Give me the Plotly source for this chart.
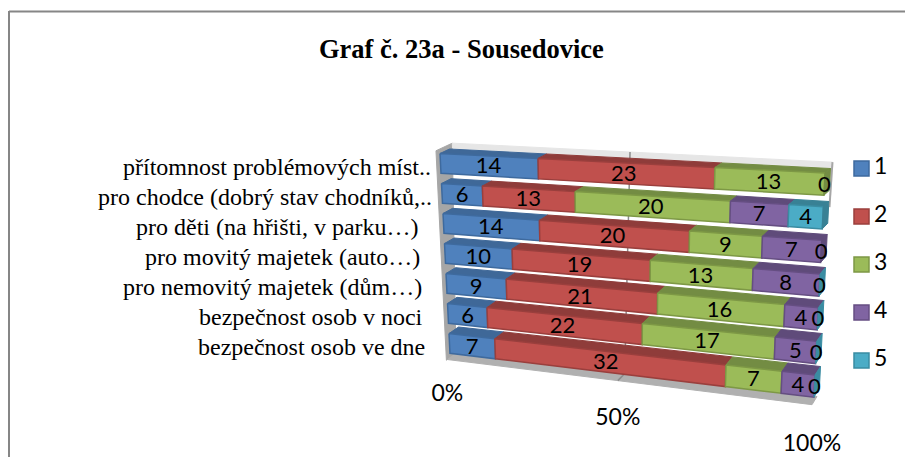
import plotly.graph_objects as go

categories = ["přítomnost problémových míst..", "pro chodce (dobrý stav chodníků,..",
              "pro děti (na hřišti, v parku…)", "pro movitý majetek (auto…)",
              "pro nemovitý majetek (dům…)", "bezpečnost osob v noci", "bezpečnost osob ve dne"]
series_names = ["1", "2", "3", "4", "5"]
s1 = [14, 6, 14, 10, 9, 6, 7]
s2 = [23, 13, 20, 19, 21, 22, 32]
s3 = [13, 20, 9, 13, 16, 17, 7]
s4 = [None, 7, 7, 8, 4, 5, 4]
s5 = [0, 4, 0, 0, 0, 0, 0]
axis_ticks = [0, 50, 100]
title = "Graf č. 23a - Sousedovice"

front = ["#4F81BD", "#C0504D", "#9BBB59", "#8064A2", "#4BACC6"]
edge = ["#3E6A9E", "#9A3F3D", "#7D9845", "#654E82", "#3A8CA2"]
top = ["#3F6898", "#8F3C3A", "#738C43", "#5F4B7A", "#388195"]
NUM = "Lato"
SERIF = "Liberation Serif"

WARP = 0.878
BAR_H = 0.66


def project(u, v, d=0.0):
    """Oblique/perspective projection: share u (0..1), row v, depth d -> pixels."""
    w = WARP * u / (1 - u + WARP * u)
    xl, yl = 440 + 1.5 * v, 153.5 + 30 * v
    xr, yr = 825 - (10 / 6) * v, 173 + 33.67 * v
    x = xl + (xr - xl) * w
    y = yl + (yr - yl) * w
    x += d * (9.5 - 4 * w)
    y -= d * (4.5 + v * (2 + 2 * w) / 6)
    return x, y


def poly(pts, fill, line=None, width=1):
    xs = [p[0] for p in pts] + [pts[0][0]]
    ys = [p[1] for p in pts] + [pts[0][1]]
    return go.Scatter(x=xs, y=ys, mode="lines", fill="toself", fillcolor=fill,
                      line=dict(color=line or fill, width=width), hoverinfo="skip",
                      showlegend=False)


def seg(pts, color, width=1):
    return go.Scatter(x=[p[0] for p in pts], y=[p[1] for p in pts], mode="lines",
                      line=dict(color=color, width=width), hoverinfo="skip", showlegend=False)


def wall_d(v):
    return 1.3 - 0.7 * v / 6.8


fig = go.Figure()
V0, V1 = -0.15, 6.8
# left wall
fig.add_trace(poly([project(0, V0, -0.4), project(0, V0, wall_d(V0)),
                    project(0, V1, wall_d(V1)), project(0, V1, -0.4)], "#A6A6A6"))
# back-wall cap
fig.add_trace(poly([project(0, V0, wall_d(V0)), project(1, V0, wall_d(V0)),
                    project(1, V0 + 0.17, wall_d(V0)), project(0, V0 + 0.17, wall_d(V0))], "#E6E6E6"))
# floor
fig.add_trace(poly([project(0, V1, -0.3), project(1, V1, -0.3),
                    project(1, V1, wall_d(V1)), project(0, V1, wall_d(V1))], "#B0B0B0"))
fig.add_trace(seg([project(1, V0, wall_d(V0)), project(1, 1.2, wall_d(1.2))], "#A6A6A6", 2))
fig.add_trace(seg([project(0.5, V0, wall_d(V0)), project(0.5, V1, wall_d(V1)),
                   project(0.5, V1, -0.3)], "#8C8C8C", 1.5))

rows = list(zip(s1, s2, s3, s4, s5))
lx, ly, lt = [], [], []
for i, row in enumerate(rows):
    total = sum(x for x in row if x is not None)
    acc = 0
    last = max(k for k, x in enumerate(row) if x)
    for k, val in enumerate(row):
        if val is None:
            continue
        a, b = acc / total, (acc + val) / total
        acc += val
        mid = (a + b) / 2
        if val > 0:
            fig.add_trace(poly([project(a, i, 0), project(b, i, 0), project(b, i, 1), project(a, i, 1)], top[k]))
            fig.add_trace(poly([project(a, i, 0), project(b, i, 0), project(b, i + BAR_H, 0),
                                project(a, i + BAR_H, 0)], front[k], edge[k], 1.5))
            if k == last and i < 3:
                fig.add_trace(poly([project(1, i, 0), project(1, i, 1), project(1, i + BAR_H, 1),
                                    project(1, i + BAR_H, 0)], top[k]))
        elif i >= 3:
            fig.add_trace(poly([project(1, i, 0), project(1, i, 1), project(1, i + BAR_H, 1),
                                project(1, i + BAR_H, 0)], edge[k]))
        if val == 0:
            mid = 1.0
        x, y = project(mid, i + BAR_H / 2, 0)
        lx.append(x)
        ly.append(y + 2)
        lt.append(str(val))

fig.add_trace(go.Scatter(x=lx, y=ly, text=lt, mode="text", hoverinfo="skip", showlegend=False,
                         textposition="middle center",
                         textfont=dict(family=NUM, size=22, color="#000000")))

# tick labels
tx, ty, tt = [], [], []
for t in axis_ticks:
    x, y = project(t / 100, V1, -0.3)
    tx.append(x)
    ty.append(y + 36 + t * 0.05)
    tt.append(f"{t}%")
fig.add_trace(go.Scatter(x=tx, y=ty, text=tt, mode="text", hoverinfo="skip", showlegend=False,
                         textposition="middle center",
                         textfont=dict(family=NUM, size=23, color="#000000")))

# legend
leg_y = [168.5 + 48 * k for k in range(5)]
fig.add_trace(go.Scatter(x=[861.5] * 5, y=leg_y, mode="markers", hoverinfo="skip", showlegend=False,
                         marker=dict(symbol="square", size=15, color=front, line=dict(color=edge, width=1.5))))
fig.add_trace(go.Scatter(x=[874] * 5, y=leg_y, mode="text", text=series_names, hoverinfo="skip", showlegend=False,
                         textposition="middle right",
                         textfont=dict(family=NUM, size=23, color="#000000")))

annotations = []
for i, c in enumerate(categories):
    x, y = project(0, i + BAR_H / 2, 0)
    x_right = x - 23 + (15 if c.endswith("..") else 0)
    annotations.append(dict(x=x_right, y=y + 3.5, xref="x", yref="y", text=c, showarrow=False,
                            xanchor="right", yanchor="middle",
                            font=dict(family=SERIF, size=24, color="#000000")))
annotations.append(dict(x=461.5, y=49, xref="x", yref="y", text=f"<b>{title}</b>", showarrow=False,
                        xanchor="center", yanchor="middle",
                        font=dict(family=SERIF, size=26.5, color="#000000")))

frame = [dict(type="line", xref="x", yref="y", x0=9, x1=905, y0=11.5, y1=11.5, line=dict(color="#868686", width=2)),
         dict(type="line", xref="x", yref="y", x0=9, x1=9, y0=11, y1=457, line=dict(color="#868686", width=2))]

fig.update_layout(width=905, height=457, margin=dict(l=0, r=0, t=0, b=0),
                  paper_bgcolor="#FFFFFF", plot_bgcolor="#FFFFFF", showlegend=False,
                  annotations=annotations, shapes=frame,
                  xaxis=dict(range=[0, 905], visible=False, fixedrange=True),
                  yaxis=dict(range=[457, 0], visible=False, fixedrange=True))
fig.write_html("out.html", config={"displayModeBar": False},
               post_script="document.body.style.margin='0';document.documentElement.style.overflow='hidden';")
